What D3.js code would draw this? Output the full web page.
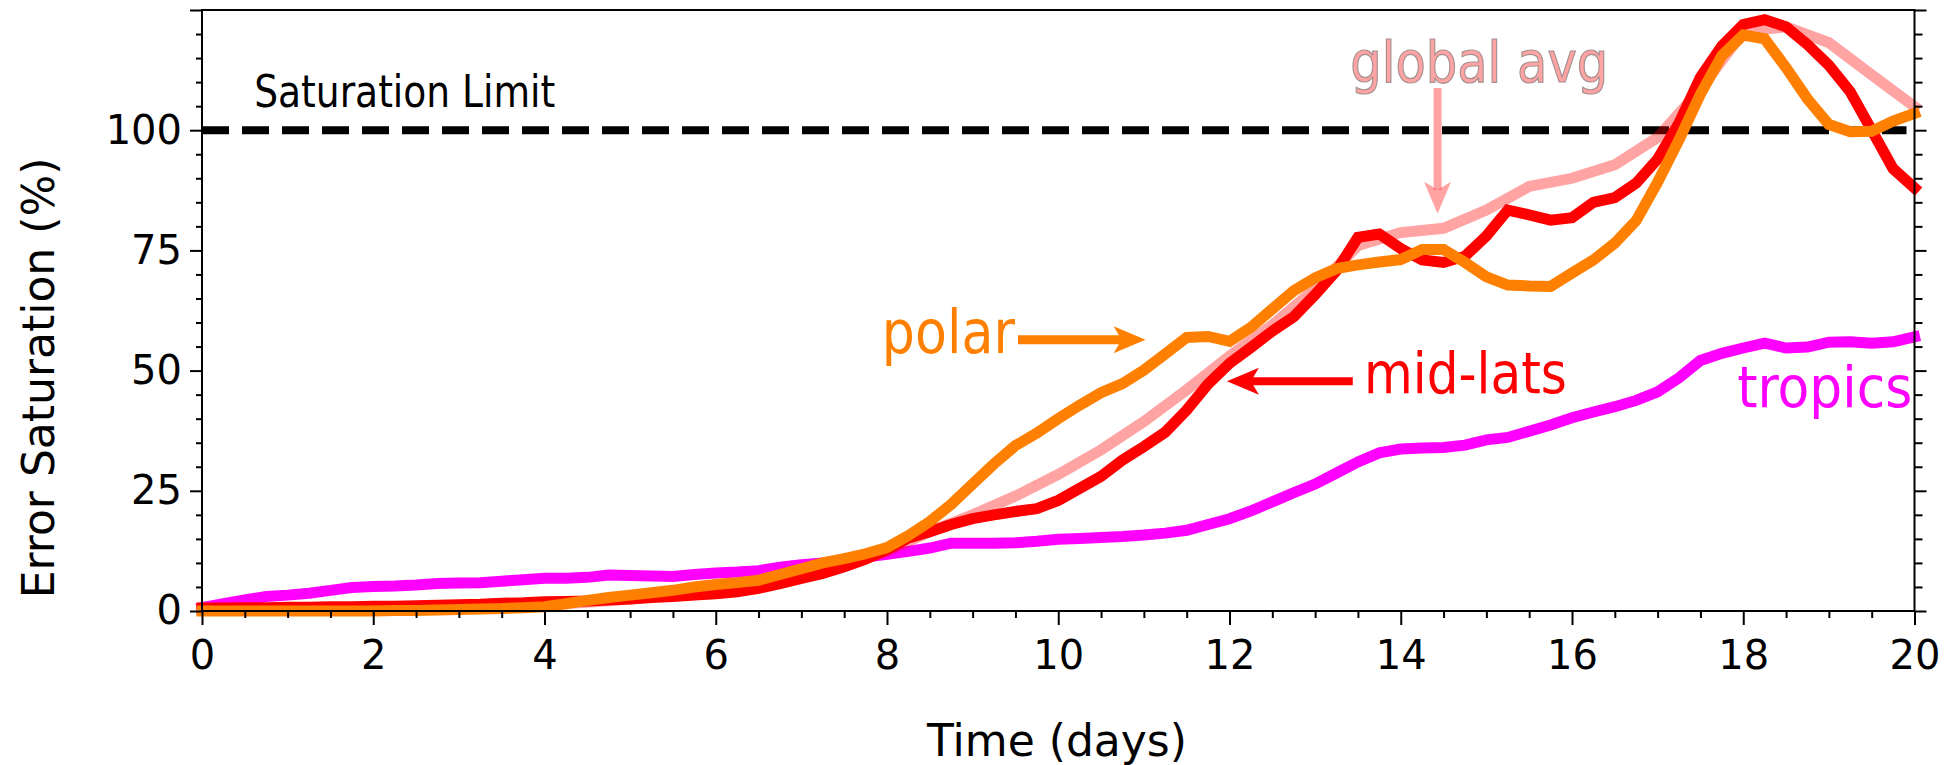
<!DOCTYPE html>
<html>
<head>
<meta charset="utf-8">
<script src="https://cdn.jsdelivr.net/npm/d3@7/dist/d3.min.js"></script>
<style>
    body { margin: 0; background: #fff; }
    svg { display: block; }
</style>
</head>
<body>
<div id="chart"></div>
<script>
// time grid of the model output (days)
var days = d3.range(0, 20.001, 0.25);
var halfDays = d3.range(0, 20.001, 0.5);

// error saturation (%) per region, 6-hourly
var midLats = [
    0.6, 0.6, 0.7, 0.7,  0.8, 0.8, 0.9, 0.9,  1.0, 1.0, 1.1, 1.2,  1.3, 1.4, 1.6, 1.7,
    1.9, 2.0, 2.1, 2.3,  2.5, 2.8, 3.0, 3.3,  3.6, 4.0, 4.7, 5.7,  6.8, 7.8, 9.2, 10.8,
    12.8, 15.2, 16.5, 18.0,  19.2, 20.0, 20.7, 21.3,  23.0, 25.5, 28.0, 31.4,  34.2, 37.2, 41.8, 47.2,
    51.5, 54.8, 58.2, 61.2,  65.8, 70.8, 77.7, 78.4,  75.4, 73.0, 72.5, 73.8,  78.0, 83.4, 82.4, 81.3,
    81.8, 85.0, 86.0, 89.0,  94.0, 101.5, 111.0, 117.5,  122.0, 123.0, 121.5, 117.8,  113.5, 108.0, 100.0, 92.0,
    88.0
];
var polar = [
    0, 0, 0, 0,  0, 0, 0, 0,  0, 0.1, 0.1, 0.2,  0.3, 0.4, 0.5, 0.7,
    0.9, 1.5, 2.2, 2.8,  3.3, 3.8, 4.3, 5.0,  5.5, 5.9, 6.4, 7.6,  8.8, 10.0, 10.9, 11.9,
    13.2, 15.7, 18.6, 22.2,  26.4, 30.6, 34.4, 37.0,  40.0, 42.8, 45.4, 47.3,  50.1, 53.5, 56.9, 57.1,
    56.1, 59.0, 62.8, 66.6,  69.3, 71.2, 72.0, 72.6,  73.1, 75.2, 75.2, 72.5,  69.5, 67.8, 67.6, 67.5,
    70.3, 73.0, 76.5, 81.2,  89.2, 98.0, 107.5, 115.5,  119.8, 119.0, 113.0, 106.5,  101.2, 99.7, 99.8, 101.9,
    103.5
];
var tropics = [
    0.7, 1.5, 2.3, 3.0,  3.3, 3.7, 4.3, 4.9,  5.1, 5.2, 5.4, 5.7,  5.8, 5.9, 6.2, 6.5,
    6.8, 6.8, 7.0, 7.5,  7.4, 7.3, 7.2, 7.6,  7.9, 8.1, 8.4, 9.1,  9.6, 10.0, 10.6, 11.2,
    11.8, 12.4, 13.1, 14.1,  14.1, 14.1, 14.2, 14.5,  14.9, 15.1, 15.3, 15.5,  15.8, 16.2, 16.8, 18.0,
    19.2, 20.8, 22.7, 24.6,  26.4, 28.7, 31.0, 32.9,  33.7, 33.9, 34.0, 34.5,  35.6, 36.1, 37.4, 38.7,
    40.2, 41.4, 42.5, 43.8,  45.6, 48.5, 52.1, 53.6,  54.7, 55.7, 54.7, 54.9,  55.9, 56.0, 55.7, 56.0,
    57.0
];
// global average, 12-hourly
var globalAvg = [
    0.3, 0.3, 0.4, 0.5, 0.6, 0.7, 0.8, 1.0, 1.3, 1.8,
    2.5, 3.3, 4.2, 5.5, 7.2, 9.3, 12.5, 16.5, 20.0, 23.9,
    28.4, 33.5, 39.4, 46.0, 53.0, 59.5, 67.0, 76.0, 78.7, 79.6,
    83.4, 88.3, 90.0, 92.8, 98.5, 108.5, 120.5, 121.5, 118.2, 111.5,
    104.9
];

var saturationLimit = 100;

var xMajorTicks = [0, 2, 4, 6, 8, 10, 12, 14, 16, 18, 20];
var xMinorTicks = d3.range(0, 20.001, 0.5).filter(function(d) { return d % 2 !== 0; });
var yMajorTicks = [0, 25, 50, 75, 100, 125];
var yTickLabels = ["0", "25", "50", "75", "100", ""];
var yMinorTicks = d3.range(0, 125.001, 5).filter(function(d) { return d % 25 !== 0; });

function init() {
    var width = 1951;
    var height = 765;

    var svg = d3.select("#chart")
                .append("svg")
                .attr("width", width)
                .attr("height", height);

    svg.append("rect")
        .attr("width", width)
        .attr("height", height)
        .attr("fill", "#fff");

    var xScale = d3.scaleLinear()
                    .domain([0, 20])
                    .range([202, 1914.5]);

    var yScale = d3.scaleLinear()
                    .domain([0, 125])
                    .range([611, 10]);

    // saturation limit line
    svg.append("line")
        .attr("x1", xScale(0))
        .attr("x2", xScale(20) - 8)
        .attr("y1", yScale(saturationLimit))
        .attr("y2", yScale(saturationLimit))
        .attr("stroke", "#000")
        .attr("stroke-width", 8)
        .attr("stroke-dasharray", "27,13");

    var line = d3.line()
                .x(function(d) { return xScale(d[0]); })
                .y(function(d) { return yScale(d[1]); });

    function drawSeries(times, values, color, opacity) {
        svg.append("path")
            .datum(d3.zip(times, values))
            .attr("d", line)
            .attr("fill", "none")
            .attr("stroke", color)
            .attr("stroke-opacity", opacity)
            .attr("stroke-width", 11)
            .attr("stroke-linecap", "square");
    }

    drawSeries(days, tropics, "#ff00ff", 1);
    drawSeries(halfDays, globalAvg, "#ff0000", 0.36);
    drawSeries(days, midLats, "#ff0000", 1);
    drawSeries(days, polar, "#ff8000", 1);

    // axes
    function styleAxis(g) {
        g.select(".domain").remove();
        g.selectAll(".tick line").attr("stroke", "#000").attr("stroke-width", 2);
        g.selectAll(".tick text")
            .attr("fill", "#000")
            .style("font-family", "'DejaVu Sans', sans-serif")
            .style("font-size", "40px");
    }

    svg.append("g")
        .attr("transform", "translate(0,611)")
        .call(d3.axisBottom(xScale).tickValues(xMinorTicks).tickSize(7).tickFormat(""))
        .call(styleAxis);
    svg.append("g")
        .attr("transform", "translate(0,611)")
        .call(d3.axisBottom(xScale).tickValues(xMajorTicks).tickSize(14).tickPadding(16).tickFormat(d3.format("d")))
        .call(styleAxis);

    svg.append("g")
        .attr("transform", "translate(202,0)")
        .call(d3.axisLeft(yScale).tickValues(yMinorTicks).tickSize(6).tickFormat(""))
        .call(styleAxis);
    svg.append("g")
        .attr("transform", "translate(202,0)")
        .call(d3.axisLeft(yScale).tickValues(yMajorTicks).tickSize(12).tickPadding(8)
            .tickFormat(function(d, i) { return yTickLabels[i]; }))
        .call(styleAxis);

    svg.append("g")
        .attr("transform", "translate(1914.5,0)")
        .call(d3.axisRight(yScale).tickValues(yMinorTicks).tickSize(8).tickFormat(""))
        .call(styleAxis);
    svg.append("g")
        .attr("transform", "translate(1914.5,0)")
        .call(d3.axisRight(yScale).tickValues(yMajorTicks).tickSize(12).tickFormat(""))
        .call(styleAxis);

    // frame
    svg.append("rect")
        .attr("x", xScale(0))
        .attr("y", yScale(125))
        .attr("width", xScale(20) - xScale(0))
        .attr("height", yScale(0) - yScale(125))
        .attr("fill", "none")
        .attr("stroke", "#000")
        .attr("stroke-width", 2);

    // axis titles
    svg.append("text")
        .attr("x", 1057)
        .attr("y", 756)
        .attr("text-anchor", "middle")
        .style("font-family", "'DejaVu Sans', sans-serif")
        .style("font-size", "44px")
        .text("Time (days)");

    svg.append("text")
        .attr("transform", "translate(54,378) rotate(-90)")
        .attr("text-anchor", "middle")
        .style("font-family", "'DejaVu Sans', sans-serif")
        .style("font-size", "44px")
        .text("Error Saturation (%)");

    // annotations
    function label(txt, day, val, size, len, color) {
        return svg.append("text")
            .attr("x", xScale(day))
            .attr("y", yScale(val))
            .attr("textLength", len)
            .attr("lengthAdjust", "spacingAndGlyphs")
            .attr("fill", color)
            .style("font-family", "'DejaVu Sans Condensed', 'DejaVu Sans', sans-serif")
            .style("font-size", size + "px")
            .text(txt);
    }

    function arrow(from, to, color, opacity, w) {
        var x1 = xScale(from[0]), y1 = yScale(from[1]);
        var x2 = xScale(to[0]), y2 = yScale(to[1]);
        var len = Math.hypot(x2 - x1, y2 - y1);
        var ux = (x2 - x1) / len, uy = (y2 - y1) / len;
        var headLen = 32, halfW = 13.5, notch = 8;
        var bx = x2 - ux * headLen, by = y2 - uy * headLen;
        var nx = bx + ux * notch, ny = by + uy * notch;
        svg.append("line")
            .attr("x1", x1).attr("y1", y1)
            .attr("x2", nx).attr("y2", ny)
            .attr("stroke", color)
            .attr("stroke-opacity", opacity)
            .attr("stroke-width", w);
        svg.append("path")
            .attr("d", "M" + x2 + "," + y2 +
                       "L" + (bx - uy * halfW) + "," + (by + ux * halfW) +
                       "L" + nx + "," + ny +
                       "L" + (bx + uy * halfW) + "," + (by - ux * halfW) + "Z")
            .attr("fill", color)
            .attr("fill-opacity", opacity);
    }

    label("Saturation Limit", 0.61, 104.8, 44, 301, "#000");

    label("global avg", 13.41, 110.1, 57, 258, "#ffa3a3")
        .attr("stroke", "#a89090")
        .attr("stroke-width", 1.2);
    arrow([14.43, 108.8], [14.43, 82.6], "#ff0000", 0.36, 8);

    label("polar", 7.94, 53.7, 60, 133, "#ff8000");
    arrow([9.53, 56.4], [11.02, 56.4], "#ff8000", 1, 9);

    label("mid-lats", 13.57, 45.3, 57, 203, "#ff0000");
    arrow([13.44, 47.8], [11.97, 47.8], "#ff0000", 1, 8);

    label("tropics", 17.93, 42.5, 57, 175, "#ff00ff");
}

window.onload = init;
</script>
</body>
</html>
